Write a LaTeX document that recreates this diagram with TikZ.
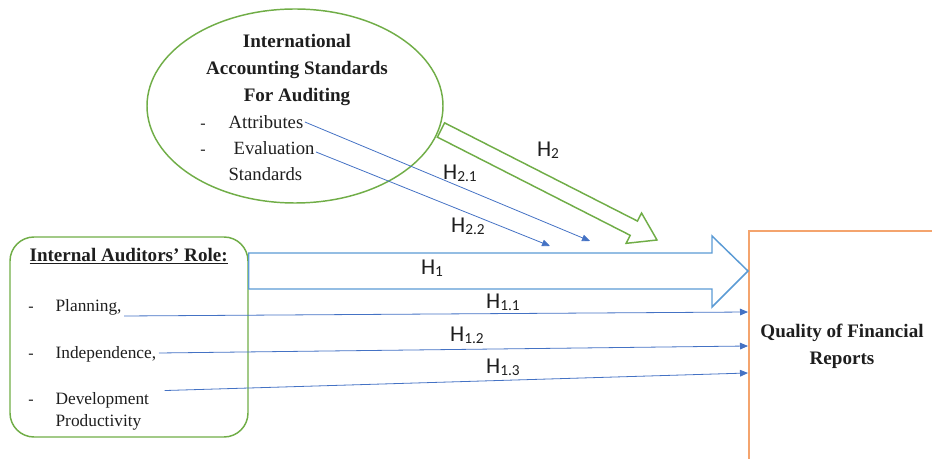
\documentclass[tikz,border=0pt]{standalone}
\usepackage{fontspec}
\setmainfont{Liberation Serif}
\newfontfamily\hfont{Carlito}
\usetikzlibrary{arrows.meta,positioning,shapes.geometric,calc}
\definecolor{leaf}{HTML}{70AD47}
\definecolor{sky}{HTML}{5B9BD5}
\definecolor{royal}{HTML}{4472C4}
\definecolor{peach}{HTML}{F4A46E}
\definecolor{ink}{HTML}{1E1E1E}
\newcommand{\hlab}[1]{{\hfont H\raisebox{-0.2ex}{\fontsize{11.5}{13}\selectfont #1}}}
\tikzset{
  headtext/.style={
    font=\fontsize{14.3}{20.25}\selectfont\bfseries, align=center, inner sep=1pt,
    text=ink
  },
  itemtext/.style={
    font=\fontsize{#1}{16.5}\selectfont, anchor=west, inner sep=1pt, text=ink
  },
  itemtext/.default=14,
  dashmark/.style={font=\fontsize{12}{14}\selectfont, inner sep=0pt, anchor=base,
    text=ink},
  hyplabel/.style={font=\fontsize{17}{19}\selectfont, inner sep=0pt, text=ink},
  bigarrow/.style={draw=#1, fill=white, line width=1.1pt, line join=miter},
  bigarrow/.default=sky,
  thinarrow/.style={
    -{Triangle[length=6pt,width=5pt]}, draw=royal, line width=0.6pt
  },
}

\begin{document}
\begin{tikzpicture}[x=0.75pt,y=-0.75pt]
\useasboundingbox (0,0) rectangle (932,459);

% ── Outcome box (runs off the page) ──
\node[draw=peach, line width=1.4pt, minimum width=150pt, minimum height=180pt,
  anchor=north west, inner sep=0pt] (qfr) at (748,230) {};
\node[headtext] (qfrtext) at (842,346) {Quality of Financial\\Reports};

% ── Standards ellipse ──
\node[ellipse, draw=leaf, line width=1.1pt, minimum width=222pt,
  minimum height=145.5pt, inner sep=0pt] (ias) at (295,106) {};
\node[headtext] (iastitle) at (297,70)
  {International\\Accounting Standards\\For Auditing};
\node[itemtext] (attr) at (227,122) {Attributes};
\node[itemtext] (eval) at (232,148) {Evaluation};
\node[itemtext] (stds) at (227,174) {Standards};
\node[dashmark] (dasha) at (attr.base -| 203,0) {-};
\node[dashmark] (dashe) at (eval.base -| 203,0) {-};

% ── Internal auditors box ──
\node[draw=leaf, line width=1.1pt, rounded corners=18pt,
  minimum width=178.5pt, minimum height=150pt, inner sep=0pt] (role) at (129,337) {};
\node[headtext, anchor=west] (roletitle) at (28,256) {\underline{Internal Auditors’ Role:}};
\node[itemtext=13] (plan) at (54,307) {Planning,};
\node[itemtext=13] (indep) at (54,354) {Independence,};
\node[itemtext=13] (devel) at (54,400) {Development};
\node[itemtext=13] (prod) at (54,422) {Productivity};
\node[dashmark] (dashp) at (plan.base -| 31,0) {-};
\node[dashmark] (dashi) at (indep.base -| 31,0) {-};
\node[dashmark] (dashd) at (devel.base -| 31,0) {-};

% ── H1: hollow arrow from role box to outcome ──
\coordinate (h1s) at (role.east |- 0,271);
\coordinate (h1e) at (qfr.west |- 0,271);
\draw[bigarrow=sky] ($(h1s)+(0,-18)$) -- ($(h1e)+(-36,-18)$) -- ($(h1e)+(-36,-35)$)
  -- (h1e) -- ($(h1e)+(-36,36)$) -- ($(h1e)+(-36,18)$) -- ($(h1s)+(0,18)$) -- cycle;
\node[hyplabel] (h1) at (432,268) {\hlab{1}};

% ── H2: hollow arrow from ellipse ──
\coordinate (h2s) at (441,130);
\coordinate (h2e) at (657,240);
\coordinate (h2b) at ($(h2e)!19.5pt!(h2s)$);
\draw[bigarrow=leaf] ($(h2s)!6pt!90:(h2e)$) -- ($(h2b)!6pt!90:(h2e)$)
  -- ($(h2b)!12.75pt!90:(h2e)$) -- (h2e) -- ($(h2b)!12.75pt!-90:(h2e)$)
  -- ($(h2b)!6pt!-90:(h2e)$) -- ($(h2s)!6pt!-90:(h2e)$) -- cycle;
\node[hyplabel] (h2) at (548,150) {\hlab{2}};

% ── Sub-hypotheses ──
\coordinate (h21e) at (590,241);
\coordinate (h22e) at (550,246);
\draw[thinarrow] (attr.east) -- (h21e);
\draw[thinarrow] ($(eval.east)+(0,4)$) -- (h22e);
\node[hyplabel] (h21) at (460,173) {\hlab{2.1}};
\node[hyplabel] (h22) at (468,226) {\hlab{2.2}};

\coordinate (h11e) at (qfr.west |- 0,312);
\coordinate (h12e) at (qfr.west |- 0,346);
\coordinate (h13e) at (qfr.west |- 0,373);
\draw[thinarrow] ($(plan.east)+(1,9)$) -- (h11e);
\draw[thinarrow] ($(indep.east)+(1,-1)$) -- (h12e);
\draw[thinarrow] ($(devel.north east)+(14,0)$) -- (h13e);
\node[hyplabel] (h11) at (503,302) {\hlab{1.1}};
\node[hyplabel] (h12) at (467,335) {\hlab{1.2}};
\node[hyplabel] (h13) at (503,367) {\hlab{1.3}};

\end{tikzpicture}
\end{document}
